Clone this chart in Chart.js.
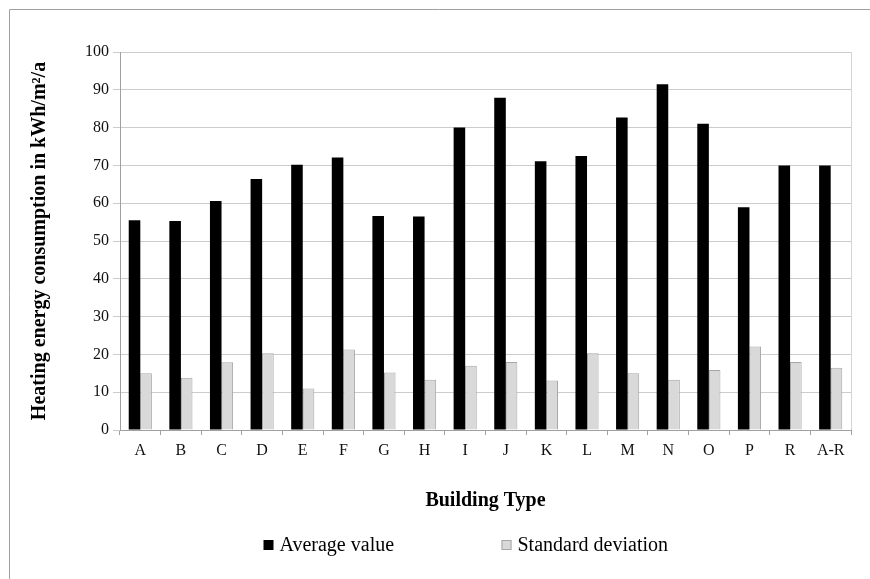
<!DOCTYPE html>
<html>
<head>
<meta charset="utf-8">
<title>Heating energy consumption by building type</title>
<script src="https://cdn.jsdelivr.net/npm/chart.js@4.4.0/dist/chart.umd.min.js"></script>
<style>
  html, body { margin: 0; padding: 0; background: #fff; }
  #wrap { position: relative; width: 870px; height: 579px; }
</style>
</head>
<body>
<div id="wrap"><canvas id="heatChart" width="870" height="579"></canvas></div>
<script>
// values (kWh/m²/a)
const buildingTypes = ["A", "B", "C", "D", "E", "F", "G", "H", "I", "J", "K", "L", "M", "N", "O", "P", "R", "A-R"];
const averageValues = [55.5, 55.3, 60.6, 66.4, 70.2, 72.1, 56.6, 56.5, 80.0, 87.9, 71.1, 72.5, 82.7, 91.5, 81.0, 58.9, 70.0, 70.0];
const stdDeviation = [15.0, 13.8, 17.9, 20.3, 11.0, 21.3, 15.2, 13.3, 17.0, 18.0, 13.1, 20.3, 15.0, 13.3, 15.9, 22.1, 18.0, 16.5];
const seriesNames = ["Average value", "Standard deviation"];
const yMin = 0;
const yMax = 100;
const yStep = 10;

const serif = "'Liberation Serif', 'Times New Roman', serif";

/**
 * Draws the outer frame, the right edge of the plot and the legend row.
 */
const frameAndLegend = {
    id: "frameAndLegend",
    afterDraw(chart) {
        const ctx = chart.ctx;
        const area = chart.chartArea;
        ctx.save();

        // outer frame (only top and left edges are visible)
        ctx.strokeStyle = "#a0a0a0";
        ctx.lineWidth = 1;
        ctx.beginPath();
        ctx.moveTo(9.5, chart.height);
        ctx.lineTo(9.5, 9.5);
        ctx.lineTo(chart.width, 9.5);
        ctx.stroke();

        // right edge of the plot area
        ctx.strokeStyle = "#d4d4d4";
        ctx.beginPath();
        ctx.moveTo(Math.round(area.right) + 0.5, area.top);
        ctx.lineTo(Math.round(area.right) + 0.5, area.bottom);
        ctx.stroke();

        // legend
        const cx = (area.left + area.right) / 2;
        const boxX = [cx - 222, cx + 16];
        const y = 545;
        ctx.font = "20px " + serif;
        ctx.textBaseline = "middle";
        ctx.textAlign = "left";
        chart.data.datasets.forEach((ds, i) => {
            ctx.fillStyle = ds.backgroundColor;
            ctx.fillRect(boxX[i], y - 5, 10, 10);
            if (ds.borderWidth) {
                ctx.strokeStyle = ds.borderColor;
                ctx.strokeRect(boxX[i] + 0.5, y - 4.5, 9, 9);
            }
            ctx.fillStyle = "#000";
            ctx.fillText(ds.label, boxX[i] + 16, y + 1);
        });
        ctx.restore();
    }
};

const ctx = document.getElementById("heatChart").getContext("2d");

new Chart(ctx, {
    type: "bar",
    data: {
        labels: buildingTypes,
        datasets: [
            {
                label: seriesNames[0],
                data: averageValues,
                backgroundColor: "#000000",
                borderWidth: 0,
            },
            {
                label: seriesNames[1],
                data: stdDeviation,
                backgroundColor: "#d9d9d9",
                borderColor: "#a6a6a6",
                borderWidth: 1,
            },
        ],
    },
    options: {
        responsive: false,
        animation: false,
        categoryPercentage: 0.57,
        barPercentage: 1.0,
        layout: { padding: { top: 52, right: 19, bottom: 0, left: 10 } },
        plugins: {
            legend: { display: false },
            tooltip: { enabled: false },
        },
        scales: {
            x: {
                grid: {
                    display: true,
                    offset: true,
                    drawOnChartArea: false,
                    tickLength: 5,
                    color: "#a0a0a0",
                },
                border: { color: "#a0a0a0" },
                ticks: {
                    color: "#111",
                    padding: 6,
                    font: { family: serif, size: 16 },
                },
                title: {
                    display: true,
                    text: "Building Type",
                    color: "#000",
                    font: { family: serif, size: 20, weight: "bold" },
                    padding: { top: 0, bottom: 66 },
                },
                afterFit: (axis) => { axis.height = 149; },
            },
            y: {
                min: yMin,
                max: yMax,
                grid: {
                    color: "#cccccc",
                    tickLength: 7,
                },
                border: { color: "#a0a0a0" },
                ticks: {
                    stepSize: yStep,
                    color: "#111",
                    padding: 4,
                    font: { family: serif, size: 16 },
                },
                title: {
                    display: true,
                    text: "Heating energy consumption in kWh/m²/a",
                    color: "#000",
                    font: { family: serif, size: 20, weight: "bold" },
                    padding: { top: 18, bottom: 0 },
                },
                afterFit: (axis) => { axis.width = 110; },
            },
        },
    },
    plugins: [frameAndLegend],
});
</script>
</body>
</html>
